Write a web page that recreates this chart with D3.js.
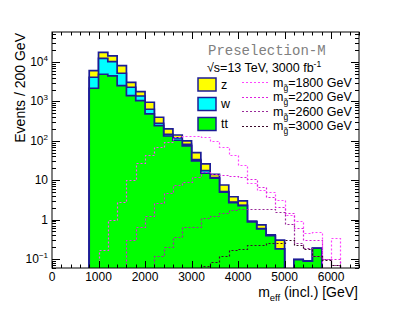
<!DOCTYPE html>
<html><head><meta charset="utf-8">
<script src="https://cdn.jsdelivr.net/npm/d3@7"></script>
<style>body{margin:0;background:#fff}svg{display:block}text{font-family:"Liberation Sans",Arial,sans-serif}</style>
</head><body>
<svg id="c" width="399" height="316"></svg>
<script>
// bin low edges (GeV), width 200
const binLow = [0,200,400,600,800,1000,1200,1400,1600,1800,2000,2200,2400,2600,2800,3000,3200,3400,3600,3800,4000,4200,4400,4600,4800,5000,5200,5400,5600,5800,6000,6200,6400];
const binWidth = 200;
const ttVals = [0,0,0,0,2150,4880,4420,2500,1400,1040,479,241,132,103,74,31,15,11.2,5.0,2.69,2.25,0.87,0.58,0.39,0.18,0,0.096,0.088,0.187,0,0,0,0];
const wVals  = [0,0,0,0,1940,7520,5780,2670,880,330,152,37,14,15,7.5,2.5,2.4,0.4,0.15,0.1,0.05,0.01,0.01,0,0,0,0,0,0,0,0,0,0];
const zVals  = [0,0,0,0,1920,5200,4000,2880,770,390,319,117,54,22,17.5,16.5,8.4,2.5,2.4,1.0,0.67,0.04,0.14,0.02,0.12,0,0,0,0,0,0,0,0];
const sig1800 = [0,0,0,0,0,0.17,1.0,2.85,10,28,44,68,95,128,136,136,128,97,68,44,24,8.3,5.7,5.0,3.2,1.3,0.93,0.45,0.49,0,0.34,0,0];
const sig2200 = [0,0,0,0,0,0,0,0,0.30,0.66,1.23,2.6,4.8,7.5,9.2,12.3,16,14.5,13.5,12.7,12,11,6.7,3.7,2.1,1.5,0.6,0.3,0.3,0.1,0.1,0,0];
const sig2600 = [0,0,0,0,0,0,0,0,0,0,0,0.12,0.2,0.36,0.65,0.66,1.1,1.23,1.5,1.7,1.9,1.9,1.9,1.85,1.6,0.75,0.26,0.19,0.12,0.1,0.07,0,0];
const sig3000 = [0,0,0,0,0,0,0,0,0,0,0,0,0,0,0,0,0.065,0.086,0.12,0.17,0.18,0.22,0.22,0.26,0.26,0.3,0.22,0.18,0.12,0.094,0.07,0.05,0];
const bgNames = ["z","w","tt"];
const bgColors = ["#ffff00","#00ffff","#00ff00"];
const sigNames = ["1800","2200","2600","3000"];
const sigColors = ["#ff44ff","#e020e0","#9a2a9a","#3a0a2a"];
const xTickValues = [0,1000,2000,3000,4000,5000,6000];
const yTickExp = [-1,0,1,2,3,4];

const svg = d3.select("#c");
const L=52,R=359,T=32,B=268;
const x = d3.scaleLinear().domain([0,6600]).range([L,R]);
const y = d3.scaleLog().domain([0.059,57600]).range([B,T]);
const yv = v => v>0 ? Math.min(B+3, y(v)) : B+3;

svg.append("clipPath").attr("id","pc").append("rect").attr("x",L).attr("y",T).attr("width",R-L).attr("height",B-T);
const g = svg.append("g").attr("clip-path","url(#pc)");

function stepPts(vals, snap){
  const f = snap ? (p=>Math.round(p)+0.5) : (p=>p);
  const pts=[];
  vals.forEach((v,i)=>{pts.push([f(x(binLow[i])),f(yv(v))]);pts.push([f(x(binLow[i]+binWidth)),f(yv(v))]);});
  return pts;
}
// stacked totals
const stackTT = ttVals;
const stackW = ttVals.map((v,i)=>v+wVals[i]);
const stackZ = stackW.map((v,i)=>v+zVals[i]);
const layers = [stackZ, stackW, stackTT];
layers.forEach((vals,k)=>{
  const pts = [[x(0),B+3]].concat(stepPts(vals,false)).concat([[x(6600),B+3]]);
  g.append("path").attr("d",d3.line()(pts)+"Z")
    .attr("fill",bgColors[k]).attr("stroke","#1c1c96").attr("stroke-width",1.7).attr("stroke-linejoin","miter");
});
[sig1800,sig2200,sig2600,sig3000].forEach((vals,k)=>{
  g.append("path").attr("d",d3.line()(stepPts(vals,true)))
    .attr("fill","none").attr("stroke",sigColors[k]).attr("stroke-width",1.2).attr("stroke-dasharray","2,2");
});

// frame
svg.append("rect").attr("x",L).attr("y",T).attr("width",R-L).attr("height",B-T).attr("fill","none").attr("stroke","#000").attr("stroke-width",1);
const tk = svg.append("g").attr("stroke","#000").attr("stroke-width",1);
d3.range(0,6601,200).forEach(v=>{
  const major = v%1000===0; const len = major?7:3.5; const xx=Math.round(x(v))+0.5;
  tk.append("line").attr("x1",xx).attr("x2",xx).attr("y1",B).attr("y2",B-len);
  tk.append("line").attr("x1",xx).attr("x2",xx).attr("y1",T).attr("y2",T+len);
});
for(let e=-2;e<=4;e++){
  for(let m=1;m<=9;m++){
    const v=m*Math.pow(10,e);
    if(v<0.059||v>57600) continue;
    const len = m===1?8:4; const yy=Math.round(y(v))+0.5;
    tk.append("line").attr("x1",L).attr("x2",L+len).attr("y1",yy).attr("y2",yy);
    tk.append("line").attr("x1",R).attr("x2",R-len).attr("y1",yy).attr("y2",yy);
  }
}
// tick labels
xTickValues.forEach(v=>{
  svg.append("text").attr("x",x(v)).attr("y",281).attr("text-anchor","middle").attr("font-size",12).text(v);
});
yTickExp.forEach(e=>{
  const t = svg.append("text").attr("x",48).attr("y",y(Math.pow(10,e))+4).attr("text-anchor","end").attr("font-size",12);
  if(e===0) t.text("1");
  else if(e===1) t.text("10");
  else { t.append("tspan").text("10"); t.append("tspan").attr("font-size",8).attr("dy",-5).text(String(e).replace("-","\u2212")); }
});
// axis titles
const xt = svg.append("text").attr("x",358).attr("y",297).attr("text-anchor","end").attr("font-size",14);
xt.append("tspan").text("m");
xt.append("tspan").attr("font-size",9.5).attr("dy",4).text("eff");
xt.append("tspan").attr("dy",-4).text(" (incl.) [GeV]");
svg.append("text").attr("transform","translate(25,33) rotate(-90)").attr("text-anchor","end").attr("font-size",14).text("Events / 200 GeV");

// labels
svg.append("text").attr("x",208).attr("y",54.5).style("font-family","'Liberation Mono', 'DejaVu Sans Mono', monospace").attr("font-size",14).attr("fill","#808080").text("Preselection-M");
const en = svg.append("text").attr("x",207).attr("y",71.5).attr("font-size",12.5);
en.append("tspan").text("\u221As=13 TeV, 3000 fb");
en.append("tspan").attr("font-size",8.5).attr("dy",-4.5).text("-1");

// legend backgrounds
const boxY=[78,97.5,117.5];
bgNames.forEach((n,k)=>{
  svg.append("rect").attr("x",198).attr("y",boxY[k]).attr("width",18).attr("height",13).attr("fill",bgColors[k]).attr("stroke","#1c1c96").attr("stroke-width",1.5);
  svg.append("text").attr("x",221).attr("y",boxY[k]+10.5).attr("font-size",12.5).text(n);
});
const lineY=[82,96.5,111,125.5];
sigNames.forEach((n,k)=>{
  svg.append("line").attr("x1",242).attr("x2",268).attr("y1",Math.round(lineY[k])+0.5).attr("y2",Math.round(lineY[k])+0.5).attr("stroke",sigColors[k]).attr("stroke-width",1.2).attr("stroke-dasharray","2,2");
  const t = svg.append("text").attr("x",273).attr("y",lineY[k]+4.5).attr("font-size",12.5);
  t.append("tspan").text("m");
  t.append("tspan").attr("font-size",8.5).attr("dy",4).text("g\u0303");
  t.append("tspan").attr("dy",-4).text("="+n+" GeV");
});
</script>
</body></html>
